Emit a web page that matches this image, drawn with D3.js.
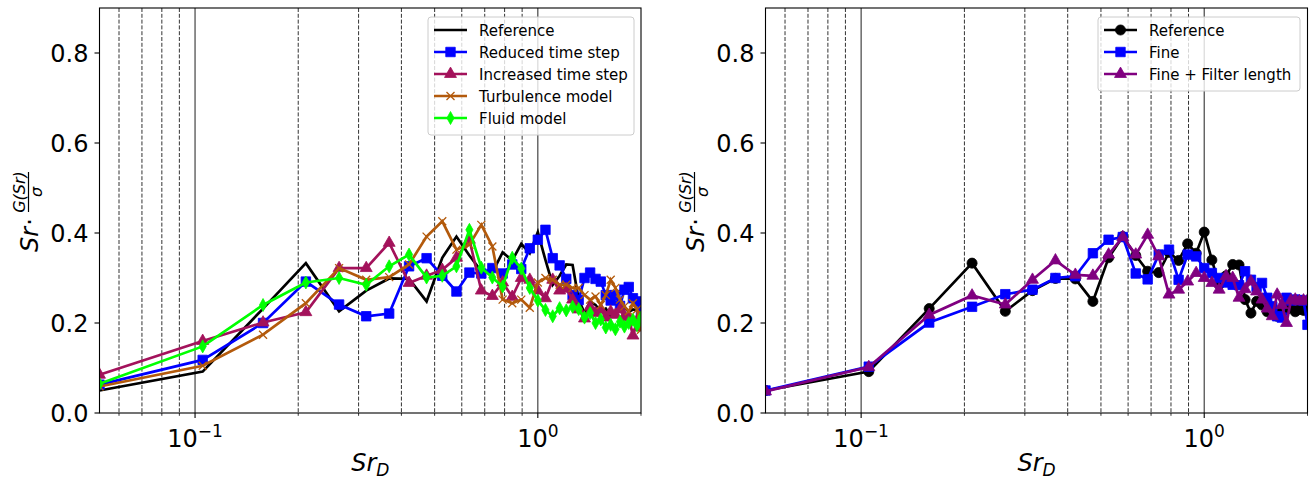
<!DOCTYPE html>
<html>
<head>
<meta charset="utf-8">
<script src="https://cdn.jsdelivr.net/npm/d3@7"></script>
<style>
  body { margin: 0; background: #fff; }
  svg text { font-family: "DejaVu Sans", sans-serif; }
</style>
</head>
<body>
<svg width="1312" height="479"></svg>
<script>
// Strouhal number grid shared by every curve: Sr_D = k / 19, k = 1..38
var srD = d3.range(1, 39).map(function (k) { return k / 19; });

// left panel: sensitivity study
var reference = [0.050,0.092,0.232,0.333,0.226,0.272,0.299,0.298,0.248,0.345,0.392,0.350,0.315,0.312,0.357,0.339,0.376,0.355,0.402,0.340,0.285,0.305,0.330,0.329,0.252,0.222,0.248,0.240,0.225,0.232,0.215,0.225,0.230,0.235,0.225,0.230,0.228,0.240];
var reducedStep = [0.063,0.118,0.200,0.292,0.241,0.215,0.221,0.326,0.344,0.305,0.270,0.312,0.310,0.322,0.310,0.330,0.320,0.366,0.385,0.407,0.344,0.328,0.298,0.262,0.251,0.300,0.312,0.298,0.292,0.262,0.250,0.262,0.238,0.274,0.280,0.255,0.248,0.222];
var increasedStep = [0.085,0.160,0.201,0.224,0.322,0.322,0.378,0.289,0.305,0.318,0.345,0.385,0.272,0.260,0.290,0.258,0.300,0.296,0.272,0.255,0.296,0.272,0.276,0.252,0.230,0.210,0.236,0.222,0.230,0.212,0.225,0.218,0.230,0.215,0.212,0.172,0.205,0.190];
var turbulence = [0.059,0.105,0.174,0.244,0.322,0.296,0.302,0.330,0.392,0.426,0.363,0.374,0.418,0.370,0.252,0.244,0.252,0.234,0.290,0.300,0.296,0.285,0.285,0.278,0.278,0.262,0.252,0.259,0.240,0.262,0.296,0.278,0.252,0.237,0.226,0.244,0.230,0.185];
var fluid = [0.065,0.148,0.240,0.290,0.300,0.285,0.326,0.352,0.301,0.305,0.326,0.407,0.323,0.301,0.281,0.345,0.321,0.278,0.250,0.229,0.215,0.233,0.228,0.236,0.231,0.212,0.222,0.200,0.208,0.190,0.196,0.186,0.203,0.192,0.200,0.207,0.195,0.212];

// right panel: mesh study
var fine = [0.050,0.103,0.201,0.236,0.264,0.274,0.300,0.304,0.355,0.385,0.391,0.310,0.297,0.352,0.363,0.296,0.352,0.348,0.322,0.311,0.300,0.290,0.285,0.284,0.315,0.296,0.280,0.289,0.256,0.237,0.215,0.212,0.256,0.250,0.252,0.251,0.250,0.196];
var fineFilter = [0.048,0.102,0.218,0.261,0.241,0.296,0.339,0.307,0.305,0.352,0.391,0.352,0.396,0.348,0.263,0.274,0.292,0.311,0.300,0.289,0.274,0.304,0.300,0.256,0.275,0.292,0.270,0.252,0.232,0.215,0.263,0.240,0.200,0.250,0.252,0.248,0.250,0.250];

// vertical guide lines
var solidLines = [0.1, 1];
var dashedLines = [0.06, 0.07, 0.08, 0.09, 0.2, 0.3, 0.4, 0.5, 0.6, 0.7, 0.8, 0.9];
var yTicks = [0, 0.2, 0.4, 0.6, 0.8];
var xMajor = [{v: 0.1, exp: "\u22121"}, {v: 1, exp: "0"}];
var xMinor = [0.06, 0.07, 0.08, 0.09, 0.2, 0.3, 0.4, 0.5, 0.6, 0.7, 0.8, 0.9, 2];

var svg = d3.select("svg");

var plotTop = 8, plotBottom = 413;
var y = d3.scaleLinear().domain([0, 0.9]).range([plotBottom, plotTop]);

// marker shapes
function markerPath(kind) {
  if (kind === "s") return d3.symbol(d3.symbolSquare, 90)();
  if (kind === "^") return d3.symbol(d3.symbolTriangle, 62)();
  if (kind === "o") return d3.symbol(d3.symbolCircle, 80)();
  if (kind === "d") return "M0,-6.5L3.6,0L0,6.5L-3.6,0Z";
  if (kind === "x") return "M-4,-4L4,4M-4,4L4,-4";
  return null;
}

function drawMarker(g, kind, color, px, py) {
  var p = markerPath(kind);
  if (!p) return;
  var m = g.append("path").attr("d", p).attr("transform", "translate(" + px + "," + py + ")");
  if (kind === "x") m.attr("fill", "none").attr("stroke", color).attr("stroke-width", 1.3);
  else m.attr("fill", color).attr("stroke", color).attr("stroke-width", 0.8);
}

function panel(x0, x1, series, legend) {
  var x = d3.scaleLog().domain([1 / 19, 2]).range([x0, x1]);
  var g = svg.append("g");

  g.append("clipPath").attr("id", "clip" + Math.round(x0))
    .append("rect").attr("x", x0).attr("y", plotTop).attr("width", x1 - x0).attr("height", plotBottom - plotTop);

  // guide lines
  g.selectAll(".dash").data(dashedLines).enter().append("line")
    .attr("x1", function (d) { return x(d); }).attr("x2", function (d) { return x(d); })
    .attr("y1", plotTop).attr("y2", plotBottom)
    .attr("stroke", "#333").attr("stroke-width", 1).attr("stroke-dasharray", "4,1.8");
  g.selectAll(".solid").data(solidLines).enter().append("line")
    .attr("x1", function (d) { return x(d); }).attr("x2", function (d) { return x(d); })
    .attr("y1", plotTop).attr("y2", plotBottom)
    .attr("stroke", "#444").attr("stroke-width", 1.2);

  var plot = g.append("g").attr("clip-path", "url(#clip" + Math.round(x0) + ")");
  var line = d3.line().x(function (d) { return x(d[0]); }).y(function (d) { return y(d[1]); });

  series.forEach(function (s) {
    var pts = srD.map(function (v, i) { return [v, s.values[i]]; });
    plot.append("path").datum(pts).attr("d", line)
      .attr("fill", "none").attr("stroke", s.color).attr("stroke-width", 2.7)
      .attr("stroke-linejoin", "miter");
    pts.forEach(function (p) { drawMarker(plot, s.marker, s.color, x(p[0]), y(p[1])); });
  });

  // frame
  g.append("rect").attr("x", x0).attr("y", plotTop).attr("width", x1 - x0).attr("height", plotBottom - plotTop)
    .attr("fill", "none").attr("stroke", "#000").attr("stroke-width", 1.1);

  // y axis
  yTicks.forEach(function (t) {
    g.append("line").attr("x1", x0 - 5).attr("x2", x0).attr("y1", y(t)).attr("y2", y(t))
      .attr("stroke", "#000").attr("stroke-width", 1.1);
    g.append("text").attr("x", x0 - 11).attr("y", y(t) + 8.5).attr("text-anchor", "end")
      .attr("font-size", 24).attr("fill", "#000").text(t.toFixed(1));
  });

  // x axis
  xMinor.forEach(function (t) {
    g.append("line").attr("x1", x(t)).attr("x2", x(t)).attr("y1", plotBottom).attr("y2", plotBottom + 2.8)
      .attr("stroke", "#000").attr("stroke-width", 0.8);
  });
  xMajor.forEach(function (t) {
    g.append("line").attr("x1", x(t.v)).attr("x2", x(t.v)).attr("y1", plotBottom).attr("y2", plotBottom + 5)
      .attr("stroke", "#000").attr("stroke-width", 1.1);
    var tx = g.append("text").attr("x", x(t.v)).attr("y", 447).attr("text-anchor", "middle")
      .attr("font-size", 24).attr("fill", "#000");
    tx.append("tspan").text("10");
    tx.append("tspan").attr("dy", -10).attr("font-size", 17).text(t.exp);
  });

  var xl = g.append("text").attr("x", (x0 + x1) / 2).attr("y", 471).attr("text-anchor", "middle")
    .attr("font-size", 24).attr("font-style", "italic").attr("fill", "#000");
  xl.append("tspan").text("Sr");
  xl.append("tspan").attr("dy", 5).attr("font-size", 17).text("D");

  // y label: Sr · G(Sr)/σ
  var yl = g.append("g").attr("transform", "translate(" + (x0 - 62) + ",211) rotate(-90)");
  yl.append("text").attr("x", -41).attr("y", 0).attr("font-size", 24).attr("font-style", "italic").text("Sr");
  yl.append("text").attr("x", -11).attr("y", 0).attr("font-size", 24).attr("text-anchor", "middle").text("\u00b7");
  var num = yl.append("text").attr("x", 19).attr("y", -13).attr("font-size", 16).attr("text-anchor", "middle")
    .attr("font-style", "italic");
  num.append("tspan").text("G(Sr)");
  yl.append("line").attr("x1", -1).attr("x2", 39).attr("y1", -9).attr("y2", -9)
    .attr("stroke", "#000").attr("stroke-width", 1.2);
  yl.append("text").attr("x", 19).attr("y", 4.5).attr("font-size", 16).attr("font-style", "italic")
    .attr("text-anchor", "middle").text("\u03c3");

  // legend
  var lg = g.append("g");
  lg.append("rect").attr("x", legend.x).attr("y", 17).attr("width", legend.w).attr("height", 8 + series.length * 22)
    .attr("rx", 3).attr("fill", "#fff").attr("fill-opacity", 0.8).attr("stroke", "#ccc").attr("stroke-width", 1);
  series.forEach(function (s, i) {
    var ry = 30 + i * 22;
    lg.append("line").attr("x1", legend.x + 6).attr("x2", legend.x + 39).attr("y1", ry).attr("y2", ry)
      .attr("stroke", s.color).attr("stroke-width", 2.7);
    drawMarker(lg, s.marker, s.color, legend.x + 22.5, ry);
    lg.append("text").attr("x", legend.x + 51).attr("y", ry + 5.5).attr("font-size", 15).attr("fill", "#000").text(s.name);
  });
}

panel(99.5, 641, [
  {name: "Reference", values: reference, color: "#000000", marker: null},
  {name: "Reduced time step", values: reducedStep, color: "#0000ff", marker: "s"},
  {name: "Increased time step", values: increasedStep, color: "#a3125b", marker: "^"},
  {name: "Turbulence model", values: turbulence, color: "#b35a0c", marker: "x"},
  {name: "Fluid model", values: fluid, color: "#00ff00", marker: "d"}
], {x: 428, w: 206});

panel(765.5, 1307.5, [
  {name: "Reference", values: reference, color: "#000000", marker: "o"},
  {name: "Fine", values: fine, color: "#0000ff", marker: "s"},
  {name: "Fine + Filter length", values: fineFilter, color: "#800080", marker: "^"}
], {x: 1098, w: 202});
</script>
</body>
</html>
